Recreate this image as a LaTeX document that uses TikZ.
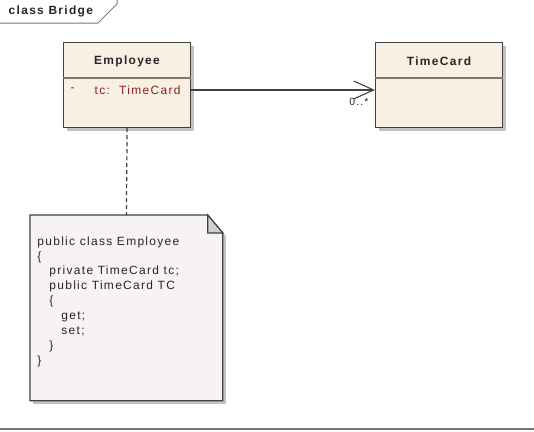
\documentclass[tikz,border=0pt]{standalone}
\usepackage{fontspec}
\setmainfont{Liberation Sans}[LetterSpace=11]
\usetikzlibrary{positioning,arrows.meta,shadows}
\definecolor{classfill}{RGB}{249,240,228}
\definecolor{boxline}{RGB}{64,64,64}
\definecolor{divline}{RGB}{128,118,105}
\definecolor{attrred}{RGB}{140,30,30}
\definecolor{notefill}{RGB}{246,242,246}
\definecolor{foldfill}{RGB}{208,208,208}
\definecolor{framegray}{RGB}{120,120,120}

\begin{document}
\begin{tikzpicture}[x=1bp,y=-1bp,
  thick,
  class node/.style={rectangle,draw=boxline,fill=classfill,line width=1.2bp,
    minimum width=127bp,minimum height=85bp,anchor=north west,inner sep=0pt,
    drop shadow={shadow xshift=3bp,shadow yshift=-3bp,fill=black!40,opacity=.6}},
  name node/.style={font=\fontsize{12}{13}\selectfont\bfseries,text=black!85},
  attr node/.style={font=\fontsize{12}{13}\selectfont,text=attrred,anchor=west},
  note node/.style={rectangle,anchor=north west,minimum width=192bp,minimum height=185bp,inner sep=0pt},
  code node/.style={font=\fontsize{12}{15}\selectfont,text=black!85,align=left,anchor=north west,inner sep=0pt}]

  \useasboundingbox (0,0) rectangle (534,431);

  % frame
  \draw[framegray,line width=1bp] (0,23) -- (98,23) -- (117,4) -- (117,0);
  \draw[framegray,line width=2bp] (0,429) -- (534,429);
  \node[name node,anchor=west] (frametitle) at (5,11) {class Bridge};

  % classes
  \node[class node] (employee) at (63,42) {};
  \node[class node] (timecard) at (375,42) {};
  \draw[divline,line width=2bp] ([yshift=-36bp]employee.north west) -- ([yshift=-36bp]employee.north east);
  \draw[divline,line width=2bp] ([yshift=-36bp]timecard.north west) -- ([yshift=-36bp]timecard.north east);
  \node[name node] (employeename) at (127,61) {Employee};
  \node[name node] (timecardname) at (439,61) {TimeCard};
  \node[attr node] (dash) at (67,90) {-};
  \node[attr node] (tcattr) at (91,90) {tc:\ \ TimeCard};

  % note
  \node[note node] (note) at (30,215) {};
  \filldraw[draw=boxline,fill=notefill,line width=1.2bp,
    drop shadow={shadow xshift=3bp,shadow yshift=-3bp,fill=black!40,opacity=.6}]
    (note.north west) -- ([xshift=-15bp]note.north east) -- ([yshift=-18bp]note.north east)
    -- (note.south east) -- (note.south west) -- cycle;
  \filldraw[draw=boxline,fill=foldfill,line width=1.2bp]
    ([xshift=-15bp]note.north east) -- ([xshift=-15bp,yshift=-18bp]note.north east)
    -- ([yshift=-18bp]note.north east) -- cycle;
  \node[code node] (code) at (37,236) {public class Employee\\
    \{\\
    \hspace*{12bp}private TimeCard tc;\\
    \hspace*{12bp}public TimeCard TC\\
    \hspace*{12bp}\{\\
    \hspace*{24bp}get;\\
    \hspace*{24bp}set;\\
    \hspace*{12bp}\}\\
    \}};

  % connectors
  \draw[boxline,line width=1.1bp,-{Straight Barb[length=20bp,width=18bp]}]
    (employee.east |- tcattr.center) to node[pos=1,anchor=north east,xshift=-6bp,yshift=-8bp,
      inner sep=0pt,font=\fontsize{10.5}{11}\selectfont,text=black!85]{0..*} (timecard.west |- tcattr.center);
  \draw[boxline,line width=1.2bp,dash pattern=on 4bp off 3bp] (employee.south) -- (note.north);
\end{tikzpicture}
\end{document}
